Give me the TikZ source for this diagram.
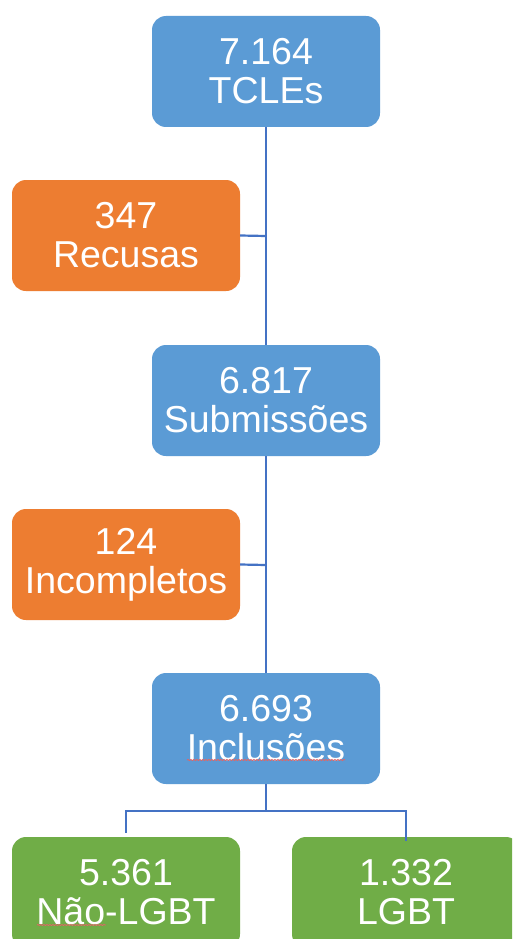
\documentclass[tikz,border=0pt]{standalone}
\usepackage{fontspec}
\setmainfont{Liberation Sans}
\usetikzlibrary{decorations.pathmorphing}
\definecolor{bbox}{HTML}{5B9BD5}
\definecolor{obox}{HTML}{ED7D31}
\definecolor{gbox}{HTML}{70AD47}
\definecolor{conn}{HTML}{4472C4}
\definecolor{squig}{HTML}{E06666}
\tikzset{
  flowbox/.style={rounded corners=14pt, minimum width=228pt, minimum height=111pt, inner sep=0pt,
    text=white, align=center, font=\fontsize{37.5}{39}\selectfont},
  link/.style={draw=conn, line width=2.2pt},
  spell/.style={draw=squig, line width=0.8pt, decorate, decoration={snake, amplitude=0.6pt, segment length=3pt}}
}
\begin{document}
\begin{tikzpicture}[x=1pt,y=-1pt]
\useasboundingbox (0,0) rectangle (512,939);
\clip (0,0) rectangle (512,939);
\fill[white] (0,0) rectangle (512,939);
\node[flowbox, fill=bbox] (tcle) at (266,71.5) {7.164\\TCLEs};
\node[flowbox, fill=obox] (recusa) at (126,235.5) {347\\Recusas};
\node[flowbox, fill=bbox] (subm) at (266,400.5) {6.817\\Submissões};
\node[flowbox, fill=obox] (incomp) at (126,564.5) {124\\Incompletos};
\node[flowbox, fill=bbox] (incl) at (266,728.5) {6.693\\Inclusões};
\node[flowbox, fill=gbox] (nao) at (126,892.5) {5.361\\Não-LGBT};
\node[flowbox, fill=gbox] (lgbt) at (406,892.5) {1.332\\LGBT};
\coordinate (j1) at (266,236);
\coordinate (j2) at (266,565);
\coordinate (j3) at (266,811);
\draw[link] (tcle.south) -- (subm.north);
\draw[link] (recusa.east) -- (j1);
\draw[link] (subm.south) -- (incl.north);
\draw[link] (incomp.east) -- (j2);
\draw[link] (incl.south) -- (j3);
\draw[link] (nao.north) ++(0,-4) |- (j3) -| ([yshift=-4pt]lgbt.north);
\coordinate (s1a) at (187,760);
\coordinate (s1b) at (345,760);
\coordinate (s2a) at (37,925);
\coordinate (s2b) at (106,925);
\draw[spell] (s1a) -- (s1b);
\draw[spell] (s2a) -- (s2b);
\end{tikzpicture}
\end{document}
